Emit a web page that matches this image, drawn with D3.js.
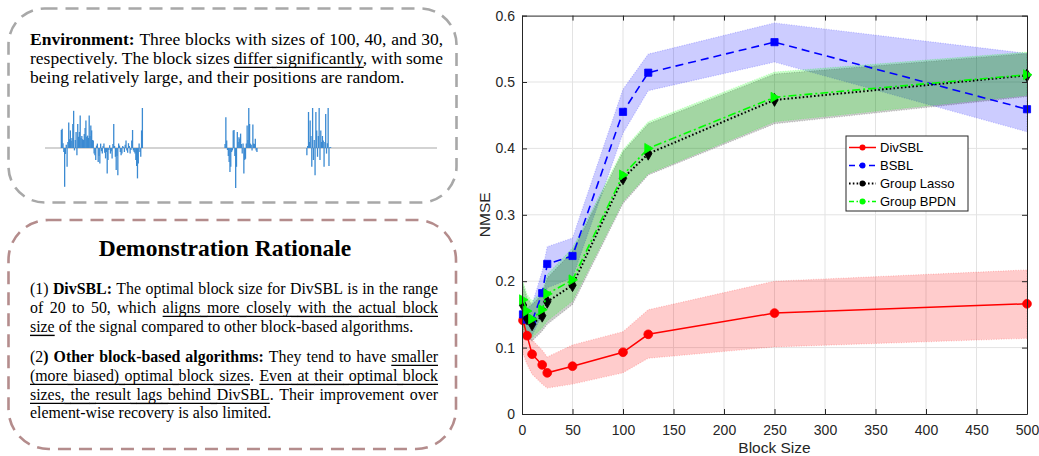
<!DOCTYPE html>
<html><head><meta charset="utf-8">
<script src="https://cdn.jsdelivr.net/npm/d3@7"></script>
<style>
body{margin:0;background:#fff;}
svg{display:block;}
</style></head>
<body>
<svg id="fig" width="1039" height="456"></svg>
<script>
// ---------------- DATA ----------------
const blockSizes = [1, 5, 10, 20, 25, 50, 100, 125, 250, 500];
const divsblMean = [0.141, 0.118, 0.090, 0.074, 0.062, 0.072, 0.093, 0.120, 0.152, 0.166];
const divsblLow  = [0.090, 0.075, 0.060, 0.045, 0.039, 0.045, 0.062, 0.084, 0.101, 0.114];
const divsblHigh = [0.135, 0.125, 0.112, 0.096, 0.086, 0.104, 0.124, 0.157, 0.200, 0.217];
const bsblMean = [0.150, 0.142, 0.140, 0.182, 0.226, 0.238, 0.455, 0.514, 0.560, 0.459];
const bsblLow  = [0.138, 0.125, 0.118, 0.150, 0.190, 0.205, 0.423, 0.487, 0.530, 0.425];
const bsblHigh = [0.165, 0.160, 0.165, 0.215, 0.252, 0.265, 0.489, 0.542, 0.589, 0.543];
const lassoMean = [0.164, 0.144, 0.135, 0.148, 0.169, 0.194, 0.355, 0.392, 0.473, 0.510];
const lassoLow  = [0.125, 0.115, 0.110, 0.125, 0.135, 0.165, 0.317, 0.360, 0.437, 0.478];
const lassoHigh = [0.195, 0.175, 0.165, 0.180, 0.205, 0.245, 0.395, 0.437, 0.512, 0.543];
const bpdnMean = [0.172, 0.155, 0.143, 0.157, 0.181, 0.202, 0.360, 0.400, 0.477, 0.511];
const bpdnLow  = [0.130, 0.120, 0.115, 0.130, 0.140, 0.170, 0.320, 0.362, 0.440, 0.480];
const bpdnHigh = [0.200, 0.180, 0.170, 0.185, 0.210, 0.250, 0.398, 0.440, 0.515, 0.545];
const seriesNames = ["DivSBL", "BSBL", "Group Lasso", "Group BPDN"];
const xTicks = [0, 50, 100, 150, 200, 250, 300, 350, 400, 450, 500];
const yTicks = [0, 0.1, 0.2, 0.3, 0.4, 0.5, 0.6];

// example signal: three blocks (sizes 100, 40, 30)
const signalLength = 480;
const blockStarts = [20, 220, 320];
const block1 = [0.45,0.48,0.12,-0.1,-0.97,-0.15,0.08,-0.47,0.15,0.64,
  0.22,0.44,0.18,0.25,0.6,0.93,-0.06,0.2,0.4,-0.18,
  0.6,0.28,0.4,0.81,0.25,0.3,0.22,0.2,0.35,0.5,
  0.69,0.28,0.31,0.25,0.81,0.3,0.56,0.44,0.2,0.19,
  -0.14,-0.18,-0.3,0.06,0.11,-0.35,-0.2,-0.39,0.11,-0.08,
  -0.14,0.05,0.11,-0.12,-0.26,-0.1,-0.64,-0.3,-0.05,0.07,
  -0.14,-0.08,-0.26,0.1,0.6,0.05,-0.22,-0.55,-0.2,-0.68,
  0.11,0.06,-0.1,-0.18,-0.14,0.05,0.02,-0.1,0.08,0.19,
  -0.06,-0.12,0.12,0.05,-0.14,-0.05,0.19,0.45,-0.06,-0.1,
  -0.14,-0.3,-0.45,-0.76,-0.39,0.11,-0.1,-0.22,0.44,1.0];
const block2 = [0.1,0.77,0.19,-0.05,-0.2,-0.35,-0.6,-0.47,-0.1,-0.06,
  0.44,0.45,-0.2,-1.0,-0.47,0.4,0.15,0.27,0.23,0.36,
  0.1,-0.14,0.11,-0.64,-0.3,-0.27,0.11,0.56,0.2,1.0,
  0.6,0.11,0.08,-0.06,0.59,0.11,0.1,0.23,-0.06,-0.1];
const block3 = [-0.18,0.05,0.9,0.15,0.69,0.3,-0.47,1.0,-0.3,0.2,
  -0.68,0.9,0.44,-0.22,0.3,1.0,-0.3,0.44,0.15,0.3,
  0.19,-0.47,0.15,0.85,-0.14,0.12,1.0,-0.45,0.02,0.02];

// ---------------- LEFT PANEL ----------------
const svg = d3.select("#fig");
const left = svg.append("g");

left.append("rect").attr("x",8.5).attr("y",8.5).attr("width",448).attr("height",194)
  .attr("rx",36).attr("fill","none").attr("stroke","#a8a8a8").attr("stroke-width",2.6)
  .attr("stroke-dasharray","13 8");
left.append("rect").attr("x",8.5).attr("y",220).attr("width",447.5).attr("height",229)
  .attr("rx",40).attr("fill","none").attr("stroke","#b48c8c").attr("stroke-width",2.6)
  .attr("stroke-dasharray","13 8");

function parseLine(str){
  const words=[]; let bold=false, ul=false; let cur=[]; let run=null; let i=0;
  while(i<str.length){
    if(str.startsWith("**",i)){bold=!bold;i+=2;continue;}
    if(str.startsWith("__",i)){ul=!ul;i+=2;continue;}
    const c=str[i]; i++;
    if(c===" "){ if(cur.length){cur.spaceUl=ul;words.push(cur);cur=[];run=null;} continue; }
    if(!run||run.b!==bold||run.u!==ul){run={t:"",b:bold,u:ul};cur.push(run);}
    run.t+=c;
  }
  if(cur.length) words.push(cur);
  return words;
}
// draws justified lines; g may be horizontally scaled by sx
function drawPara(parent, lines, x0, x1, fs, sxs){
  const g = parent.append("g").attr("transform",`scale(${sxs},1)`);
  const X0 = x0/sxs, X1 = x1/sxs;
  lines.forEach(ln=>{
    const words=parseLine(ln.t);
    words.forEach(w=>{
      const t=g.append("text").attr("y",ln.y).style("font-size",fs+"px")
        .style("font-family","'Liberation Serif','Times New Roman',serif").attr("fill","#000");
      w.el=t; w.runs=[];
      let off=0;
      w.forEach(r=>{
        const ts=t.append("tspan").text(r.t).style("font-weight",r.b?"bold":"normal");
        const wd=ts.node().getComputedTextLength();
        w.runs.push({off:off,w:wd,u:r.u}); off+=wd;
      });
      w.width=t.node().getComputedTextLength();
    });
    const total=d3.sum(words,w=>w.width);
    const gap = ln.j && words.length>1 ? (X1-X0-total)/(words.length-1) : fs*0.25;
    let x=X0;
    words.forEach((w,k)=>{
      w.x=x; w.el.attr("x",x); x+=w.width+gap;
    });
    words.forEach((w,k)=>{
      w.runs.forEach(r=>{ if(r.u) g.append("line").attr("x1",w.x+r.off).attr("x2",w.x+r.off+r.w)
        .attr("y1",ln.y+3.4).attr("y2",ln.y+3.4).attr("stroke","#000").attr("stroke-width",1.4); });
      if(w.spaceUl && k<words.length-1 && w.runs[w.runs.length-1].u)
        g.append("line").attr("x1",w.x+w.width-0.5).attr("x2",words[k+1].x+0.5)
          .attr("y1",ln.y+3.4).attr("y2",ln.y+3.4).attr("stroke","#000").attr("stroke-width",1.4);
    });
  });
}
drawPara(left, [
  {t:"**Environment:** Three blocks with sizes of 100, 40, and 30,", y:45, j:true},
  {t:"respectively. The block sizes __differ significantly__, with some", y:64, j:true},
  {t:"being relatively large, and their positions are random.", y:83, j:false}
], 30, 443, 17.5, 1);

left.append("text").attr("x",225).attr("y",256).attr("text-anchor","middle")
  .style("font-family","'Liberation Serif','Times New Roman',serif").style("font-weight","bold")
  .style("font-size","23.5px").text("Demonstration Rationale");

drawPara(left, [
  {t:"(1) **DivSBL:** The optimal block size for DivSBL is in the range", y:294, j:true},
  {t:"of 20 to 50, which __aligns more closely with the actual block__", y:313, j:true},
  {t:"__size__ of the signal compared to other block-based algorithms.", y:332, j:false},
  {t:"(2**) Other block-based algorithms:** They tend to have __smaller__", y:362, j:true},
  {t:"__(more biased) optimal block sizes__. __Even at their optimal block__", y:381, j:true},
  {t:"__sizes, the result lags behind DivSBL__. Their improvement over", y:400, j:true},
  {t:"element-wise recovery is also limited.", y:418.5, j:false}
], 30, 438, 17, 0.935);

// signal
const sx = d3.scaleLinear().domain([0, signalLength-1]).range([45, 437]);
const sy = d3.scaleLinear().domain([-1, 1]).range([188, 108]);
left.append("line").attr("x1",sx(0)).attr("x2",sx(signalLength-1)).attr("y1",sy(0)).attr("y2",sy(0))
  .attr("stroke","#c4c4c4").attr("stroke-width",1.5);
const stems=[];
[block1,block2,block3].forEach((b,bi)=>b.forEach((v,i)=>stems.push({i:blockStarts[bi]+i,v:v})));
left.append("g").selectAll("line").data(stems).join("line")
  .attr("x1",d=>sx(d.i)).attr("x2",d=>sx(d.i)).attr("y1",sy(0)).attr("y2",d=>sy(d.v))
  .attr("stroke","#3b8ad2").attr("stroke-width",1.3);

// ---------------- CHART ----------------
const x = d3.scaleLinear().domain([0,500]).range([522,1027]);
const y = d3.scaleLinear().domain([0,0.6]).range([414,15.6]);
const chart = svg.append("g");
const font="'Liberation Sans',Arial,Helvetica,sans-serif";

// grid
chart.append("g").selectAll("line").data(xTicks.slice(1,-1)).join("line")
  .attr("x1",d=>x(d)).attr("x2",d=>x(d)).attr("y1",y(0)).attr("y2",y(0.6))
  .attr("stroke","#e3e3e3").attr("stroke-width",1);
chart.append("g").selectAll("line").data(yTicks.slice(1,-1)).join("line")
  .attr("y1",d=>y(d)).attr("y2",d=>y(d)).attr("x1",x(0)).attr("x2",x(500))
  .attr("stroke","#e3e3e3").attr("stroke-width",1);

const series = [
  {name:seriesNames[0], mean:divsblMean, lo:divsblLow, hi:divsblHigh, color:"#ff0000", band:"rgba(255,0,0,0.2)", dash:null, ldash:null, w:1.5, marker:"circle"},
  {name:seriesNames[1], mean:bsblMean, lo:bsblLow, hi:bsblHigh, color:"#0000ff", band:"rgba(0,0,255,0.2)", dash:"8 5", ldash:"6 4", w:1.6, marker:"square"},
  {name:seriesNames[2], mean:lassoMean, lo:lassoLow, hi:lassoHigh, color:"#000000", band:"rgba(0,0,0,0.2)", dash:"1.6 2.2", ldash:"1.6 2.2", w:2, marker:"diamond"},
  {name:seriesNames[3], mean:bpdnMean, lo:bpdnLow, hi:bpdnHigh, color:"#00ff00", band:"rgba(0,255,0,0.2)", dash:"8 3 2 3", ldash:"5 2.5 1.5 2.5", w:1.6, marker:"triangle"}
];
const area = d3.area().x(d=>x(d.x)).y0(d=>y(d.lo)).y1(d=>y(d.hi));
const line = d3.line().x(d=>x(d.x)).y(d=>y(d.y));
function markerPath(type){
  if(type==="circle") return d3.symbol(d3.symbolCircle, 60)();
  if(type==="square") return d3.symbol(d3.symbolSquare, 52)();
  if(type==="diamond") return d3.symbol(d3.symbolDiamond, 48)();
  return "M-3.5,-5L5,0L-3.5,5Z";
}
series.forEach(s=>{
  const pts = blockSizes.map((b,i)=>({x:b, y:s.mean[i], lo:s.lo[i], hi:s.hi[i]}));
  chart.append("path").datum(pts).attr("d",area).attr("fill",s.band)
    .attr("stroke",s.band).attr("stroke-width",1.2).attr("stroke-dasharray","1 1.5");
  s.pts=pts;
});
series.forEach(s=>{
  chart.append("path").datum(s.pts).attr("d",line).attr("fill","none").attr("stroke",s.color)
    .attr("stroke-width",s.w).attr("stroke-dasharray",s.dash);
  chart.append("g").selectAll("path").data(s.pts).join("path")
    .attr("transform",d=>`translate(${x(d.x)},${y(d.y)})`).attr("d",markerPath(s.marker))
    .attr("fill",s.color).attr("stroke",s.color).attr("stroke-width",0.8);
});

// axes with inward ticks and box
const axColor="#262626";
function styleAxis(g, showText){
  g.select(".domain").attr("stroke",axColor).attr("stroke-width",1);
  g.selectAll(".tick line").attr("stroke",axColor);
  g.selectAll(".tick text").attr("fill",axColor).style("font-family",font).style("font-size","14px");
  if(!showText) g.selectAll(".tick text").remove();
}
chart.append("g").attr("transform",`translate(0,${y(0)})`)
  .call(d3.axisBottom(x).tickValues(xTicks).tickSize(-5).tickPadding(11).tickSizeOuter(0))
  .call(g=>styleAxis(g,true));
chart.append("g").attr("transform",`translate(0,${y(0.6)})`)
  .call(d3.axisTop(x).tickValues(xTicks).tickSize(-5).tickSizeOuter(0))
  .call(g=>styleAxis(g,false));
chart.append("g").attr("transform",`translate(${x(0)},0)`)
  .call(d3.axisLeft(y).tickValues(yTicks).tickSize(-5).tickPadding(7).tickSizeOuter(0).tickFormat(d=>d===0?"0":d3.format(".1f")(d)))
  .call(g=>styleAxis(g,true));
chart.append("g").attr("transform",`translate(${x(500)},0)`)
  .call(d3.axisRight(y).tickValues(yTicks).tickSize(-5).tickSizeOuter(0))
  .call(g=>styleAxis(g,false));

chart.append("text").attr("x",(x(0)+x(500))/2).attr("y",453).attr("text-anchor","middle")
  .style("font-family",font).style("font-size","15.5px").attr("fill",axColor).text("Block Size");
chart.append("text").attr("transform",`translate(490,${(y(0)+y(0.6))/2}) rotate(-90)`)
  .attr("text-anchor","middle").style("font-family",font).style("font-size","15.5px")
  .attr("fill",axColor).text("NMSE");

// legend
const lg = chart.append("g").attr("transform","translate(846,136)");
lg.append("rect").attr("width",122).attr("height",75).attr("fill","#fff").attr("stroke",axColor).attr("stroke-width",1);
series.forEach((s,i)=>{
  const yy = 11.5 + i*18;
  lg.append("line").attr("x1",3).attr("x2",30).attr("y1",yy).attr("y2",yy).attr("stroke",s.color)
    .attr("stroke-width",s.w).attr("stroke-dasharray",s.ldash);
  lg.append("circle").attr("cx",16.5).attr("cy",yy).attr("r",3).attr("fill",s.color);
  lg.append("text").attr("x",34).attr("y",yy+4.8).style("font-family",font).style("font-size","13px")
    .attr("fill","#000").text(s.name);
});
</script>
</body></html>
